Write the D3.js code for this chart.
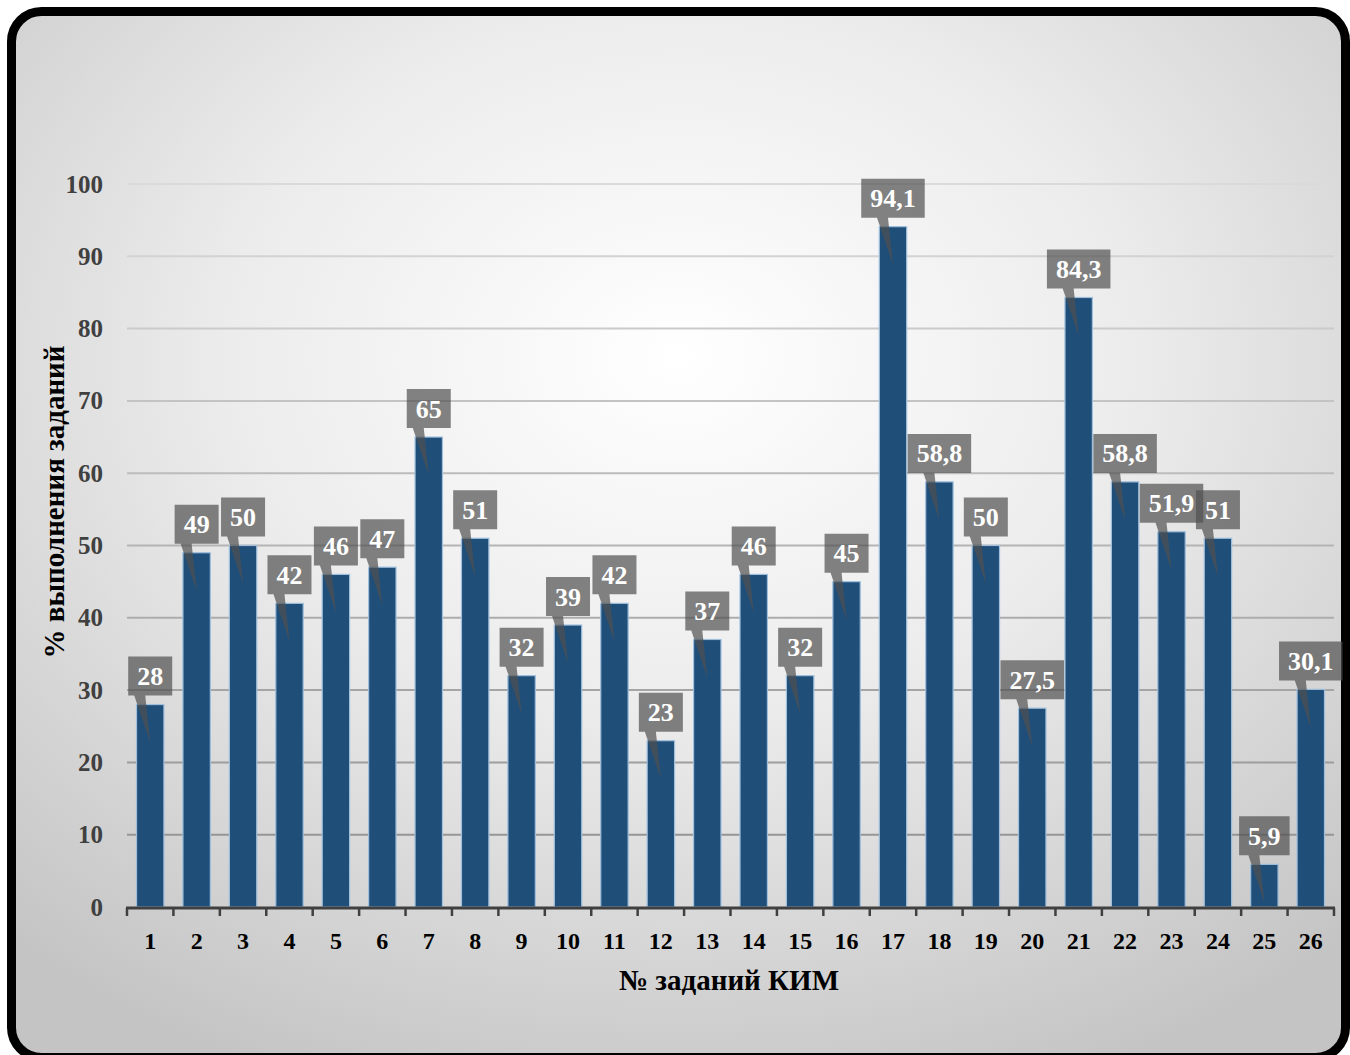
<!DOCTYPE html>
<html><head><meta charset="utf-8">
<script src="https://cdn.jsdelivr.net/npm/d3@7"></script>
<style>html,body{margin:0;padding:0;background:#fff;overflow:hidden}
svg text{font-family:"Liberation Serif","Times New Roman","DejaVu Serif",serif;font-weight:bold}</style>
</head><body>
<svg id="chart" width="1350" height="1055"></svg>
<script>
const categories = ["1","2","3","4","5","6","7","8","9","10","11","12","13","14","15","16","17","18","19","20","21","22","23","24","25","26"];
const values = [28,49,50,42,46,47,65,51,32,39,42,23,37,46,32,45,94.1,58.8,50,27.5,84.3,58.8,51.9,51,5.9,30.1];
const yTicks = [0,10,20,30,40,50,60,70,80,90,100];
const yTitle = "% выполнения заданий";
const xTitle = "№ заданий КИМ";

const svg = d3.select("#chart");
const defs = svg.append("defs");
const rg = defs.append("radialGradient").attr("id","bg")
  .attr("cx","50%").attr("cy","33%").attr("r","75%").attr("fx","50%").attr("fy","33%");
rg.append("stop").attr("offset","0%").attr("stop-color","#ffffff");
rg.append("stop").attr("offset","45%").attr("stop-color","#ececec");
rg.append("stop").attr("offset","100%").attr("stop-color","#c4c4c4");

const margin = {left:127, right:1334, top:184, bottom:907};
const x = d3.scaleBand().domain(categories).range([margin.left, margin.right]).paddingInner(0.41).paddingOuter(0.205);
const xb = d3.scaleBand().domain(categories).range([margin.left, margin.right]);
const y = d3.scaleLinear().domain([0,100]).range([margin.bottom, margin.top]);

const lg = defs.append("linearGradient").attr("id","grid").attr("gradientUnits","userSpaceOnUse")
  .attr("x1",0).attr("x2",0).attr("y1",y(100)).attr("y2",y(0));
lg.append("stop").attr("offset","0%").attr("stop-color","#dadada");
lg.append("stop").attr("offset","100%").attr("stop-color","#8e8e8e");

// frame
svg.append("rect").attr("x",11.5).attr("y",11.5).attr("width",1334).attr("height",1046)
  .attr("rx",30).attr("ry",30).attr("fill","url(#bg)").attr("stroke","#000").attr("stroke-width",9);

// gridlines
svg.append("g").selectAll("line").data(yTicks.filter(d=>d>0)).join("line")
  .attr("x1",margin.left).attr("x2",margin.right)
  .attr("y1",d=>y(d)).attr("y2",d=>y(d))
  .attr("stroke","url(#grid)").attr("stroke-width",2);

// y axis labels
const yAxis = d3.axisLeft(y).tickValues(yTicks).tickSize(0).tickPadding(24);
const gy = svg.append("g").attr("transform",`translate(${margin.left},0)`).call(yAxis);
gy.select(".domain").remove();
gy.attr("font-family",null).attr("font-size",null);
gy.selectAll("text").style("font-size","25px").attr("fill","#404040");

// bars
svg.append("g").selectAll("rect").data(values).join("rect")
  .attr("x",(d,i)=>x(categories[i])).attr("width",x.bandwidth())
  .attr("y",d=>y(d)).attr("height",d=>y(0)-y(d))
  .attr("fill","#1f4e79").attr("stroke","#9fbfdd").attr("stroke-width",1.2);

// x axis
const gx = svg.append("g").attr("transform",`translate(0,${margin.bottom+1})`);
gx.append("line").attr("x1",margin.left-1).attr("x2",margin.right+1).attr("y1",0).attr("y2",0)
  .attr("stroke","#404040").attr("stroke-width",3);
const edges = categories.map(c=>xb(c)).concat([margin.right]);
gx.selectAll("line.tk").data(edges).join("line").attr("class","tk")
  .attr("x1",d=>d).attr("x2",d=>d).attr("y1",0).attr("y2",8)
  .attr("stroke","#404040").attr("stroke-width",2.5);
gx.selectAll("text").data(categories).join("text")
  .attr("x",d=>xb(d)+xb.bandwidth()/2).attr("y",41).attr("text-anchor","middle")
  .style("font-size","24px").attr("fill","#000").text(d=>d);

// callouts
const fmt = v => String(v).replace(".",",");
const lab = svg.append("g");
values.forEach((v,i)=>{
  const cx = x(categories[i]) + x.bandwidth()/2;
  const top = y(v);
  const t = fmt(v);
  const tmp = lab.append("text").style("font-size","26px").text(t);
  const w = tmp.node().getComputedTextLength() + 18;
  tmp.remove();
  const h = 39;
  const by = top - 9;
  const tipY = Math.min(top + 38, y(0) - 4);
  const p = `M${cx-w/2},${by-h} H${cx+w/2} V${by} H${cx-5} L${cx},${tipY} L${cx-16},${by} H${cx-w/2} Z`;
  lab.append("path").attr("d",p).attr("fill","#505050").attr("fill-opacity",0.7);
  lab.append("text").attr("x",cx).attr("y",by-h/2+9).attr("text-anchor","middle")
    .style("font-size","26px").attr("fill","#fff").text(t);
});

// titles
svg.append("text").attr("transform","translate(64,502) rotate(-90)").attr("text-anchor","middle")
  .style("font-size","29px").attr("fill","#000").text(yTitle);
svg.append("text").attr("x",729).attr("y",990).attr("text-anchor","middle")
  .style("font-size","29px").attr("fill","#000").text(xTitle);
</script>
</body></html>
